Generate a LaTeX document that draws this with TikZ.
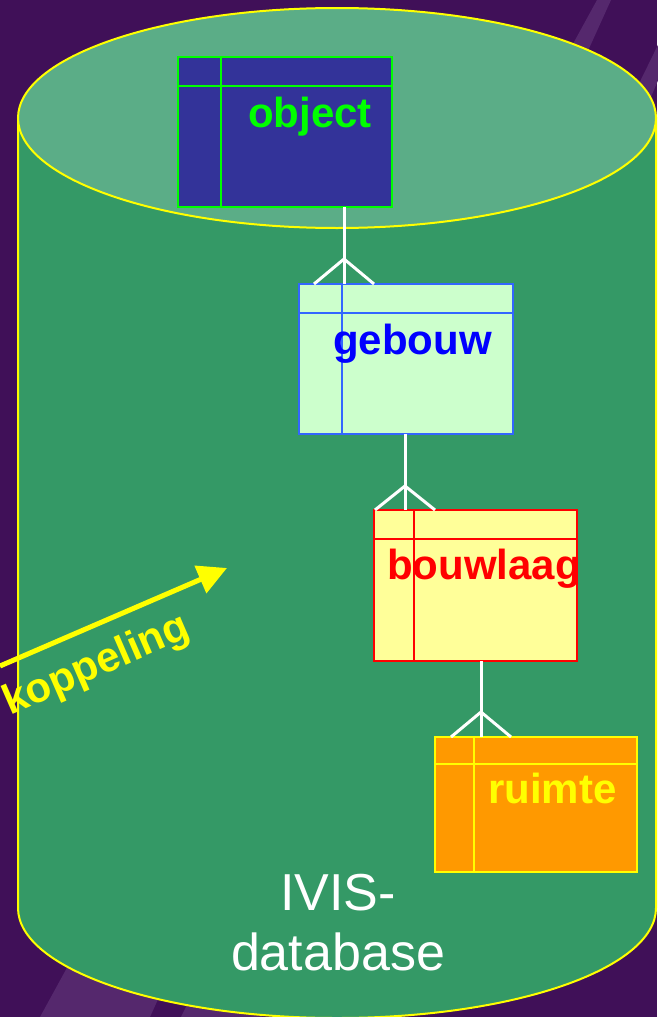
\documentclass[tikz,border=0pt]{standalone}
\usepackage{fontspec}
\setmainfont{Liberation Sans}
\usetikzlibrary{arrows.meta,calc}

\definecolor{bgpurple}{HTML}{401058}
\definecolor{beamcol}{HTML}{55286D}
\definecolor{cylbody}{HTML}{349966}
\definecolor{cyltop}{HTML}{5BAD87}
\definecolor{objfill}{HTML}{333399}
\definecolor{objline}{HTML}{00FF00}
\definecolor{gebfill}{HTML}{CCFFCC}
\definecolor{gebline}{HTML}{3366FF}
\definecolor{gebtext}{HTML}{0000FF}
\definecolor{blfill}{HTML}{FFFF99}
\definecolor{blline}{HTML}{FF0000}
\definecolor{rmfill}{HTML}{FF9900}
\definecolor{rmline}{HTML}{FFFF00}
\definecolor{outline}{HTML}{FFFF00}

\begin{document}
\begin{tikzpicture}[x=1pt,y=-1pt,
  tbl/.style 2 args={draw=#1, fill=#2, line width=2pt, rectangle,
    inner sep=0pt, outer sep=0pt, anchor=north west},
  tblline/.style={line width=2pt},
  label/.style={font=\fontsize{42}{50}\selectfont\bfseries,
    inner sep=0pt, anchor=base west},
  link/.style={draw=white, line width=3pt},
  dbtext/.style={font=\fontsize{52}{60}\selectfont, text=white,
    inner sep=0pt, anchor=base}]

  % page and background
  \useasboundingbox (0,0) rectangle (657,1017);
  \fill[bgpurple] (0,0) rectangle (657,1017);
  \fill[beamcol] (597,0) -- (611,0) -- (150,1017) -- (40,1017) -- cycle;
  \fill[beamcol] (680,0) -- (692,0) -- (262,1017) -- (181,1017) -- cycle;

  % database cylinder
  \filldraw[fill=cylbody, draw=outline, line width=2pt]
    (18,118) -- (18,908)
    arc[start angle=180, end angle=0, x radius=319, y radius=110]
    -- (656,118) -- cycle;
  \filldraw[fill=cyltop, draw=outline, line width=2pt]
    (337,118) ellipse[x radius=319, y radius=110];

  % tables
  \node[tbl={objline}{objfill}, minimum width=214pt, minimum height=150pt]
    (object) at (178,57) {};
  \draw[tblline, objline] ($(object.north west)+(0,29)$) -- ($(object.north east)+(0,29)$);
  \draw[tblline, objline] ($(object.north west)+(43,0)$) -- ($(object.south west)+(43,0)$);

  \node[tbl={gebline}{gebfill}, minimum width=214pt, minimum height=150pt]
    (gebouw) at (299,284) {};
  \draw[tblline, gebline] ($(gebouw.north west)+(0,29)$) -- ($(gebouw.north east)+(0,29)$);
  \draw[tblline, gebline] ($(gebouw.north west)+(43,0)$) -- ($(gebouw.south west)+(43,0)$);

  \node[tbl={blline}{blfill}, minimum width=203pt, minimum height=151pt]
    (bouwlaag) at (374,510) {};
  \draw[tblline, blline] ($(bouwlaag.north west)+(0,29)$) -- ($(bouwlaag.north east)+(0,29)$);
  \draw[tblline, blline] ($(bouwlaag.north west)+(40,0)$) -- ($(bouwlaag.south west)+(40,0)$);

  \node[tbl={rmline}{rmfill}, minimum width=202pt, minimum height=135pt]
    (ruimte) at (435,737) {};
  \draw[tblline, rmline] ($(ruimte.north west)+(0,27)$) -- ($(ruimte.north east)+(0,27)$);
  \draw[tblline, rmline] ($(ruimte.north west)+(39,0)$) -- ($(ruimte.south west)+(39,0)$);

  % one-to-many links (crow's feet)
  \coordinate (f1) at (344,259);
  \draw[link] (object.south -| f1) -- (gebouw.north -| f1);
  \draw[link] ($(gebouw.north -| f1)+(-30,0)$) -- (f1) -- ($(gebouw.north -| f1)+(30,0)$);

  \coordinate (f2) at (405,486);
  \draw[link] (gebouw.south -| f2) -- (bouwlaag.north -| f2);
  \draw[link] ($(bouwlaag.north -| f2)+(-30,0)$) -- (f2) -- ($(bouwlaag.north -| f2)+(30,0)$);

  \coordinate (f3) at (481,712);
  \draw[link] (bouwlaag.south -| f3) -- (ruimte.north -| f3);
  \draw[link] ($(ruimte.north -| f3)+(-30,0)$) -- (f3) -- ($(ruimte.north -| f3)+(30,0)$);

  % table names
  \node[label, text=objline] (tobject) at (248,127) {object};
  \node[label, text=gebtext] (tgebouw) at (333,354) {gebouw};
  \node[label, text=blline] (tbouwlaag) at (387,579) {bouwlaag};
  \node[label, text=rmline] (truimte) at (488,803) {ruimte};

  % database caption
  \node[dbtext] (ivis) at (338,910) {IVIS-};
  \node[dbtext] (dbname) at (338,970) {database};

  % external link arrow
  \coordinate (kstart) at (0,666);
  \coordinate (ktip) at (227,568);
  \draw[draw=outline, line width=5pt, -{Triangle[length=29pt, width=29pt]}]
    (kstart) -- (ktip);
  \node[font=\fontsize{42}{50}\selectfont\bfseries, text=outline,
    inner sep=0pt, anchor=base, rotate=23.5] (koppeling) at (101,676) {koppeling};
\end{tikzpicture}
\end{document}
